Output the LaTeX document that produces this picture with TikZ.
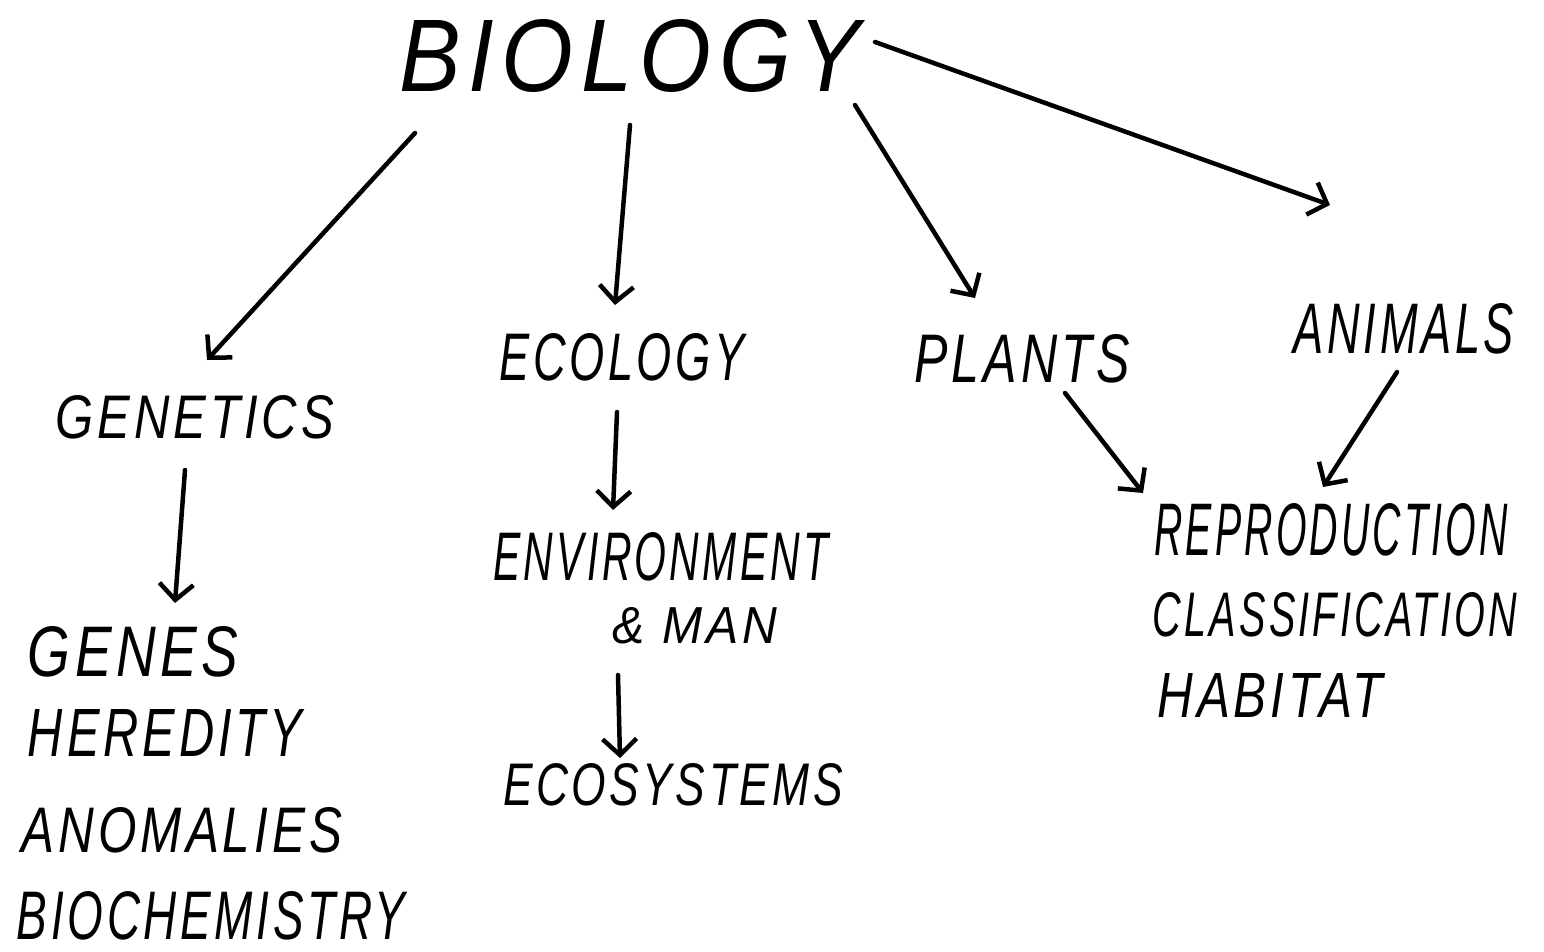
\documentclass[tikz,border=0pt]{standalone}
\usepackage{fontspec}
\usepackage{graphicx}
\setmainfont{Liberation Sans}
\usetikzlibrary{arrows.meta}
\newcommand{\hw}[3]{\resizebox{#1pt}{#2pt}{\itshape\addfontfeatures{LetterSpace=8}#3}}
\tikzset{
  lbl/.style={inner sep=0pt, anchor=center},
  arr/.style={line width=4.5pt, line cap=round, -{Straight Barb[length=16pt,width=34pt,line width=4.5pt]}}
}
\begin{document}
\begin{tikzpicture}[x=1pt,y=-1pt]
\useasboundingbox (0,0) rectangle (1544,951);
\fill[white] (0,0) rectangle (1544,951);
% nodes
\node[lbl] (bio)   at (630,56)   {\hw{460}{72}{BIOLOGY}};
\node[lbl] (gen)   at (195,417)  {\hw{278}{43}{GENETICS}};
\node[lbl] (eco)   at (622,357)  {\hw{245}{47}{ECOLOGY}};
\node[lbl] (pla)   at (1022,359) {\hw{215}{48}{PLANTS}};
\node[lbl] (ani)   at (1404,329) {\hw{220}{50}{ANIMALS}};
\node[lbl] (genes) at (133,652)  {\hw{210}{50}{GENES}};
\node[lbl] (hered) at (165,733)  {\hw{274}{47}{HEREDITY}};
\node[lbl] (anom)  at (182,830)  {\hw{320}{45}{ANOMALIES}};
\node[lbl] (bioch) at (211,916)  {\hw{388}{48}{BIOCHEMISTRY}};
\node[lbl] (env)   at (661,557)  {\hw{335}{48}{ENVIRONMENT}};
\node[lbl] (man)   at (695,626)  {\hw{164}{36}{\& MAN}};
\node[lbl] (ecos)  at (673,785)  {\hw{340}{42}{ECOSYSTEMS}};
\node[lbl] (rep)   at (1331,530) {\hw{353}{52}{REPRODUCTION}};
\node[lbl] (cla)   at (1335,615) {\hw{364}{44}{CLASSIFICATION}};
\node[lbl] (hab)   at (1270,695) {\hw{225}{44}{HABITAT}};
% connectors
\draw[arr] ([shift={(-215,77)}]bio.center) -- ([shift={(12,-57)}]gen.center);
\draw[arr] ([shift={(0,69)}]bio.center) -- ([shift={(-7,-52)}]eco.center);
\draw[arr] ([shift={(225,49)}]bio.center) -- ([shift={(-47,-61)}]pla.center);
\draw[arr] ([shift={(245,-14)}]bio.center) -- ([shift={(-74,-124)}]ani.center);
\draw[arr] ([shift={(-10,53)}]gen.center) -- ([shift={(42,-49)}]genes.center);
\draw[arr] ([shift={(-5,55)}]eco.center) -- ([shift={(-48,-47)}]env.center);
\draw[arr] ([shift={(-77,49)}]man.center) -- ([shift={(-53,-27)}]ecos.center);
\draw[arr] ([shift={(43,34)}]pla.center) -- ([shift={(-188,-37)}]rep.center);
\draw[arr] ([shift={(-7,43)}]ani.center) -- ([shift={(-8,-43)}]rep.center);
\end{tikzpicture}
\end{document}
